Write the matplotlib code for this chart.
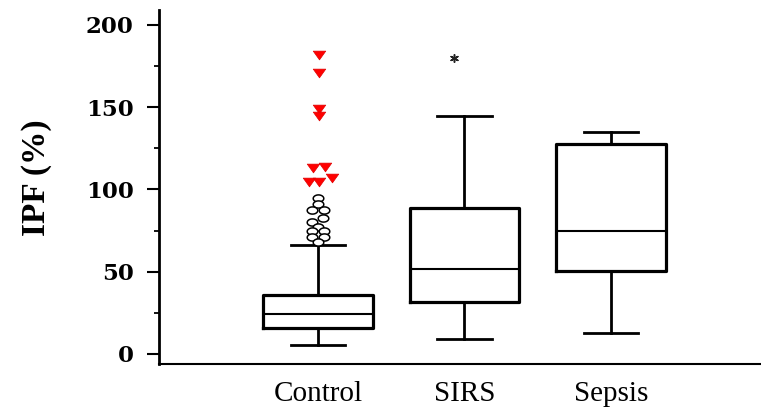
import matplotlib
matplotlib.use("Agg")
import matplotlib.pyplot as plt
import numpy as np
from matplotlib.path import Path
from matplotlib.ticker import MultipleLocator

groups = ["Control", "SIRS", "Sepsis"]

# box summary per group: lower whisker, Q1, median, Q3, upper whisker
whisker_lo = [5.5, 9.1, 13.0]
q1 = [15.8, 31.8, 50.6]
median = [24.3, 51.5, 74.8]
q3 = [35.9, 88.5, 127.8]
whisker_hi = [66.3, 144.7, 135.1]

# Control outliers (open circles) and extreme outliers (red triangles)
control_out = [94.6, 91.0, 87.5, 87.5, 82.5, 80.4, 77.4, 74.8, 74.8, 71.3, 71.3, 68.3]
control_out_jitter = [0, 0, -0.039, 0.039, 0.035, -0.039, 0, -0.039, 0.039, -0.039, 0.039, 0]
control_far = [181.8, 171.0, 148.7, 144.7, 112.9, 113.9, 106.8, 104.7, 104.7]
control_far_jitter = [0.008, 0.008, 0.008, 0.008, -0.032, 0.048, 0.094, -0.059, 0.009]

# SIRS outlier (asterisk)
sirs_out = [179.7]
sirs_out_jitter = [-0.073]

fig = plt.figure(figsize=(7.61, 4.09), dpi=100)
ax = fig.add_axes([159 / 761, 45 / 409, 602 / 761, 354 / 409])

stats = []
for i, name in enumerate(groups):
    stats.append({
        "label": name,
        "whislo": whisker_lo[i],
        "q1": q1[i],
        "med": median[i],
        "q3": q3[i],
        "whishi": whisker_hi[i],
        "fliers": [],
    })

pos = np.arange(1, len(groups) + 1)
ax.bxp(stats, positions=pos, widths=0.75, capwidths=0.37, showfliers=False,
       boxprops=dict(color="black", linewidth=2.3),
       medianprops=dict(color="black", linewidth=1.5),
       whiskerprops=dict(color="black", linewidth=2.0),
       capprops=dict(color="black", linewidth=2.0))

# flat ellipse and flat down-pointing triangle markers
t = np.linspace(0, 2 * np.pi, 60)
ellipse = Path(np.column_stack([np.cos(t) * 1.0, np.sin(t) * 0.68]), closed=True)
tri_down = Path([(0, -0.7), (-1, 0.7), (1, 0.7), (0, -0.7)], closed=True)

ax.scatter(pos[0] + np.array(control_out_jitter), control_out, marker=ellipse,
           s=7.6 ** 2, facecolor="white", edgecolor="black", linewidth=1.1, zorder=3)
ax.scatter(pos[0] + np.array(control_far_jitter), control_far, marker=tri_down,
           s=9.0 ** 2, facecolor="#ff0000", edgecolor="#e00000", linewidth=0.5, zorder=3)
ax.scatter(pos[1] + np.array(sirs_out_jitter), sirs_out, marker=(6, 2, 0),
           s=5.5 ** 2, color="#222222", linewidth=1.1, zorder=3)

ax.set_xlim(1 - 1.085, 4.024)
ax.set_ylim(-6.08, 209.1)

for side in ["top", "right"]:
    ax.spines[side].set_visible(False)
ax.spines["left"].set_linewidth(2.0)
ax.spines["bottom"].set_linewidth(1.5)

ax.yaxis.set_major_locator(MultipleLocator(50))
ax.yaxis.set_minor_locator(MultipleLocator(25))
ax.tick_params(axis="y", which="major", length=8.6, width=1.5, pad=9.5,
               labelsize=16.5)
ax.tick_params(axis="y", which="minor", length=3.6, width=1.3)
for lab in ax.get_yticklabels():
    lab.set_fontfamily("DejaVu Serif")
    lab.set_fontweight("bold")

ax.set_xticks(pos)
ax.set_xticklabels(groups, fontfamily="Liberation Serif", fontsize=21)
ax.tick_params(axis="x", length=0, pad=12)

ax.set_ylabel("IPF (%)", fontfamily="Liberation Serif", fontweight="bold",
              fontsize=24, va="center")
ax.yaxis.set_label_coords(-0.204, 0.525)

fig.savefig("out.png", dpi=100)
